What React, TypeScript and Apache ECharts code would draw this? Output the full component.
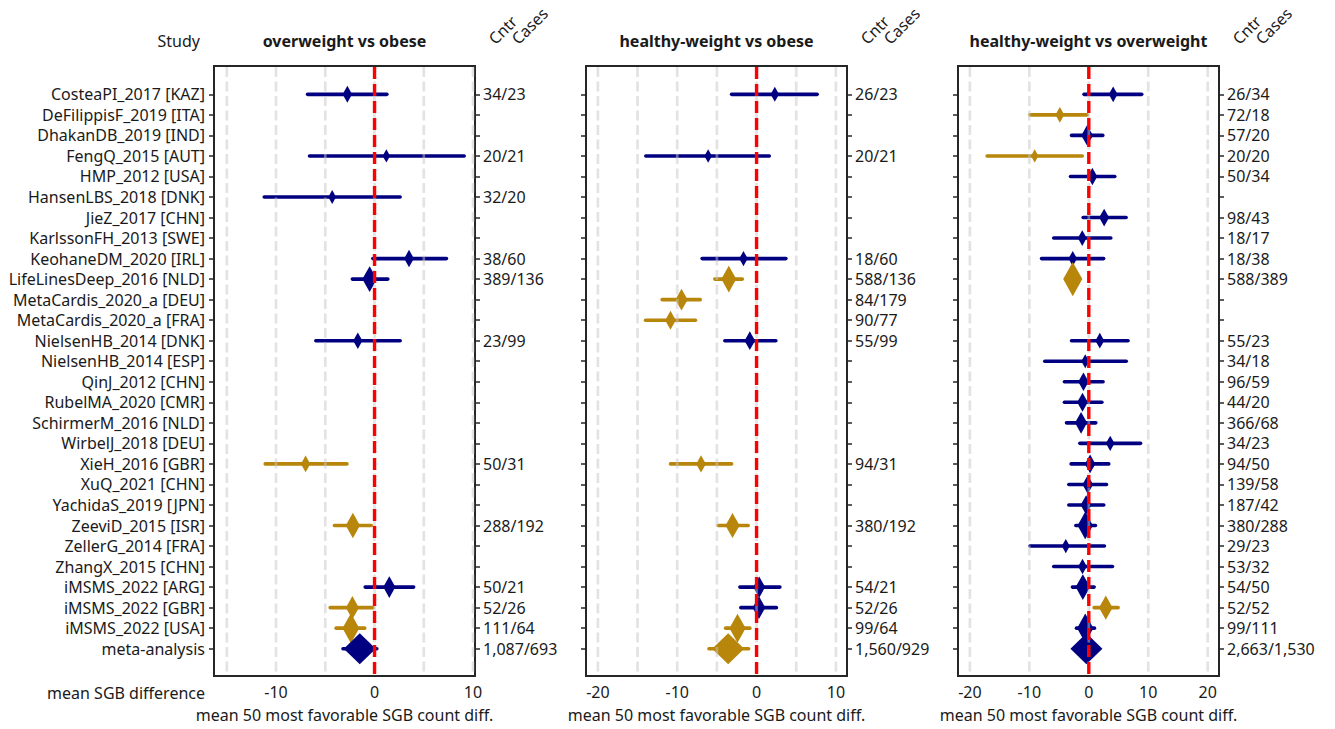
import React, { useEffect, useRef } from "react";
import * as echarts from "echarts";

const N = null;

const STUDIES = [
  "CosteaPI_2017 [KAZ]",
  "DeFilippisF_2019 [ITA]",
  "DhakanDB_2019 [IND]",
  "FengQ_2015 [AUT]",
  "HMP_2012 [USA]",
  "HansenLBS_2018 [DNK]",
  "JieZ_2017 [CHN]",
  "KarlssonFH_2013 [SWE]",
  "KeohaneDM_2020 [IRL]",
  "LifeLinesDeep_2016 [NLD]",
  "MetaCardis_2020_a [DEU]",
  "MetaCardis_2020_a [FRA]",
  "NielsenHB_2014 [DNK]",
  "NielsenHB_2014 [ESP]",
  "QinJ_2012 [CHN]",
  "RubelMA_2020 [CMR]",
  "SchirmerM_2016 [NLD]",
  "WirbelJ_2018 [DEU]",
  "XieH_2016 [GBR]",
  "XuQ_2021 [CHN]",
  "YachidaS_2019 [JPN]",
  "ZeeviD_2015 [ISR]",
  "ZellerG_2014 [FRA]",
  "ZhangX_2015 [CHN]",
  "iMSMS_2022 [ARG]",
  "iMSMS_2022 [GBR]",
  "iMSMS_2022 [USA]",
  "meta-analysis",
];

// overweight vs obese
const OVW_OB_EST = [-2.76, N, N, 1.2, N, -4.3, N, N, 3.5, -0.5, N, N, -1.7, N, N, N, N, N, -7.0, N, N, -2.2, N, N, 1.5, -2.25, -2.4, -1.5];
const OVW_OB_LO = [-6.8, N, N, -6.6, N, -11.2, N, N, -0.17, -2.25, N, N, -5.96, N, N, N, N, N, -11.1, N, N, -4.07, N, N, -0.95, -4.5, -3.9, -3.2];
const OVW_OB_HI = [1.25, N, N, 9.1, N, 2.6, N, N, 7.3, 1.35, N, N, 2.6, N, N, N, N, N, -2.8, N, N, -0.33, N, N, 3.97, -0.17, -1.0, 0.23];
const OVW_OB_N = ["34/23", "", "", "20/21", "", "32/20", "", "", "38/60", "389/136", "", "", "23/99", "", "", "", "", "", "50/31", "", "", "288/192", "", "", "50/21", "52/26", "111/64", "1,087/693"];

// healthy-weight vs obese
const HW_OB_EST = [2.3, N, N, -6.1, N, N, N, N, -1.65, -3.5, -9.46, -10.85, -0.85, N, N, N, N, N, -7.0, N, N, -3.03, N, N, 0.33, 0.3, -2.4, -3.58];
const HW_OB_LO = [-3.15, N, N, -13.96, N, N, N, N, -6.86, -5.26, -11.9, -14.0, -4.0, N, N, N, N, N, -10.85, N, N, -4.84, N, N, -2.1, -1.98, -3.9, -6.0];
const HW_OB_HI = [7.64, N, N, 1.6, N, N, N, N, 3.7, -1.8, -7.1, -7.7, 2.43, N, N, N, N, N, -3.15, N, N, -1.06, N, N, 2.94, 2.5, -0.85, -1.0];
const HW_OB_N = ["26/23", "", "", "20/21", "", "", "", "", "18/60", "588/136", "84/179", "90/77", "55/99", "", "", "", "", "", "94/31", "", "", "380/192", "", "", "54/21", "52/26", "99/64", "1,560/929"];

// healthy-weight vs overweight
const HW_OVW_EST = [4.1, -4.87, -0.28, -9.1, 0.6, N, 2.58, -1.1, -2.7, -2.7, N, N, 1.85, -0.6, -0.9, -1.06, -1.3, 3.6, 0.22, -0.17, -0.45, -0.6, -3.87, -1.06, -1.0, 2.86, -0.6, -0.4];
const HW_OVW_LO = [-0.8, -9.9, -2.9, -17.1, -3.08, N, -0.95, -5.9, -7.95, -3.9, N, N, -2.9, -7.4, -4.1, -4.1, -3.75, -1.5, -2.97, -3.36, -3.36, -2.18, -9.9, -5.9, -2.75, 0.9, -2.07, -2.2];
const HW_OVW_HI = [8.9, -0.28, 2.35, -1.1, 4.37, N, 6.27, 3.7, 2.5, -1.5, N, N, 6.6, 6.3, 2.4, 2.2, 1.18, 8.7, 3.36, 2.97, 2.52, 1.12, 2.63, 3.98, 0.9, 4.93, 0.95, 1.4];
const HW_OVW_N = ["26/34", "72/18", "57/20", "20/20", "50/34", "", "98/43", "18/17", "18/38", "588/389", "", "", "55/23", "34/18", "96/59", "44/20", "366/68", "34/23", "94/50", "139/58", "187/42", "380/288", "29/23", "53/32", "54/50", "52/52", "99/111", "2,663/1,530"];

const TITLES = ["overweight vs obese", "healthy-weight vs obese", "healthy-weight vs overweight"];
const X_RANGES = [
  [-16.3, 10.2],
  [-21.5, 11.4],
  [-22, 21.9],
];
const X_TICK_LABELS = [
  [-10, 0, 10],
  [-20, -10, 0, 10],
  [-20, -10, 0, 10, 20],
];
const X_GRID_LINES = [
  [-15, -10, -5, 0, 5, 10],
  [-20, -15, -10, -5, 0, 5, 10],
  [-20, -10, 0, 10, 20],
];

const PANELS = [
  { title: TITLES[0], est: OVW_OB_EST, lo: OVW_OB_LO, hi: OVW_OB_HI, counts: OVW_OB_N },
  { title: TITLES[1], est: HW_OB_EST, lo: HW_OB_LO, hi: HW_OB_HI, counts: HW_OB_N },
  { title: TITLES[2], est: HW_OVW_EST, lo: HW_OVW_LO, hi: HW_OVW_HI, counts: HW_OVW_N },
];

const ROWS = STUDIES.map((_, i) => i);
const META_ROW = STUDIES.length - 1;

// layout
const GRID_LEFT = [214, 586, 958];
const GRID_TOP = 66;
const GRID_W = 261;
const GRID_H = 610;
const Y_MIN = -1.38;
const Y_MAX = 28.33;

const NAVY = "#000080";
const GOLD = "#B8860B";
const INK = "#1a1a1a";
const FRAME = "#262626";
const FONT = "'Noto Sans', 'Open Sans', sans-serif";
const FS = 16;

// significant results (CI excludes zero) are highlighted
const colorFor = (lo: number, hi: number) => (hi < 0 || lo > 0 ? GOLD : NAVY);

// marker size grows with precision (narrower CI)
const markerSize = (lo: number, hi: number, row: number) => {
  if (row === META_ROW) return [32, 31];
  const h = Math.min(36, 9.6 + 59 / (hi - lo));
  return [h * 0.56, h];
};

function buildOption() {
  const grid: any[] = [];
  const xAxis: any[] = [];
  const yAxis: any[] = [];
  const series: any[] = [];
  const graphic: any[] = [];

  PANELS.forEach((p, i) => {
    grid.push({
      left: GRID_LEFT[i],
      top: GRID_TOP,
      width: GRID_W,
      height: GRID_H,
      show: true,
      borderColor: FRAME,
      borderWidth: 2,
      backgroundColor: "transparent",
    });
    xAxis.push({
      type: "value",
      gridIndex: i,
      min: X_RANGES[i][0],
      max: X_RANGES[i][1],
      axisLine: { show: false, onZero: false },
      axisTick: { show: false },
      splitLine: { show: false },
      axisLabel: {
        customValues: X_TICK_LABELS[i],
        fontSize: FS,
        fontFamily: FONT,
        color: INK,
        margin: 8,
      },
      name: "mean 50 most favorable SGB count diff.",
      nameLocation: "middle",
      nameGap: 31,
      nameTextStyle: { fontSize: FS, fontFamily: FONT, color: INK },
    });
    const yBase = {
      type: "value",
      gridIndex: i,
      inverse: true,
      min: Y_MIN,
      max: Y_MAX,
      axisLine: { show: false, onZero: false },
      splitLine: { show: false },
      axisTick: {
        show: true,
        customValues: ROWS,
        length: 5,
        lineStyle: { color: FRAME, width: 1.5 },
      },
    };
    yAxis.push({
      ...yBase,
      position: "left",
      axisLabel: {
        show: i === 0,
        customValues: ROWS,
        formatter: (v: number) => STUDIES[Math.round(v)] ?? "",
        fontSize: FS,
        fontFamily: FONT,
        color: INK,
        margin: 9,
      },
    });
    yAxis.push({
      ...yBase,
      position: "right",
      axisLabel: {
        show: true,
        customValues: ROWS,
        formatter: (v: number) => p.counts[Math.round(v)] ?? "",
        fontSize: FS,
        fontFamily: FONT,
        color: INK,
        margin: 8,
      },
    });

    const ciData: any[] = [];
    const ptData: any[] = [];
    ROWS.forEach((r) => {
      const e = p.est[r];
      const lo = p.lo[r];
      const hi = p.hi[r];
      if (e === null || lo === null || hi === null) return;
      const c = colorFor(lo, hi);
      ciData.push({ value: [lo, hi, r], itemStyle: { color: c } });
      ptData.push({
        value: [e, r],
        symbolSize: markerSize(lo, hi, r),
        itemStyle: { color: c, opacity: 1 },
      });
    });

    // confidence intervals
    series.push({
      type: "custom",
      xAxisIndex: i,
      yAxisIndex: 2 * i,
      z: 2,
      silent: true,
      encode: { x: [0, 1], y: 2 },
      data: ciData,
      renderItem: (params: any, api: any) => {
        const a = api.coord([api.value(0), api.value(2)]);
        const b = api.coord([api.value(1), api.value(2)]);
        return {
          type: "line",
          shape: { x1: a[0], y1: a[1], x2: b[0], y2: b[1] },
          style: { stroke: api.visual("color"), lineWidth: 3.6, lineCap: "round" },
        };
      },
    });

    // point estimates
    series.push({
      type: "scatter",
      xAxisIndex: i,
      yAxisIndex: 2 * i,
      z: 3,
      silent: true,
      symbol: "diamond",
      itemStyle: { opacity: 1 },
      data: ptData,
    });

    // dashed reference grid drawn over the marks
    series.push({
      type: "custom",
      xAxisIndex: i,
      yAxisIndex: 2 * i,
      z: 4,
      silent: true,
      encode: { x: 0, y: [1, 2] },
      data: X_GRID_LINES[i].map((v) => [v, Y_MIN, Y_MAX]),
      renderItem: (params: any, api: any) => {
        const a = api.coord([api.value(0), api.value(1)]);
        const b = api.coord([api.value(0), api.value(2)]);
        return {
          type: "line",
          shape: { x1: a[0], y1: a[1] + 1, x2: b[0], y2: b[1] - 1 },
          style: { stroke: "rgba(200,200,200,0.5)", lineWidth: 2.7, lineDash: [10, 4.5] },
        };
      },
    });

    // zero-difference line
    series.push({
      type: "custom",
      xAxisIndex: i,
      yAxisIndex: 2 * i,
      z: 5,
      silent: true,
      encode: { x: 0, y: [1, 2] },
      data: [[0, Y_MIN, Y_MAX]],
      renderItem: (params: any, api: any) => {
        const a = api.coord([api.value(0), api.value(1)]);
        const b = api.coord([api.value(0), api.value(2)]);
        return {
          type: "line",
          shape: { x1: a[0], y1: a[1] + 1, x2: b[0], y2: b[1] - 1 },
          style: { stroke: "#ff0000", lineWidth: 3.4, lineDash: [12, 5] },
        };
      },
    });

    const right = GRID_LEFT[i] + GRID_W;
    graphic.push({
      type: "text",
      x: GRID_LEFT[i] + GRID_W / 2,
      y: 41,
      style: {
        text: p.title,
        fill: INK,
        fontSize: FS,
        fontWeight: "bold",
        fontFamily: FONT,
        align: "center",
        verticalAlign: "middle",
      },
    });
    graphic.push({
      type: "text",
      x: right + 22,
      y: 47,
      rotation: Math.PI / 4,
      style: { text: "Cntr", fill: INK, fontSize: FS, fontFamily: FONT, align: "left", verticalAlign: "bottom" },
    });
    graphic.push({
      type: "text",
      x: right + 45,
      y: 47,
      rotation: Math.PI / 4,
      style: { text: "Cases", fill: INK, fontSize: FS, fontFamily: FONT, align: "left", verticalAlign: "bottom" },
    });
  });

  graphic.push({
    type: "text",
    x: 200,
    y: 41,
    style: { text: "Study", fill: INK, fontSize: FS, fontFamily: FONT, align: "right", verticalAlign: "middle" },
  });
  graphic.push({
    type: "text",
    x: 205,
    y: 693,
    style: {
      text: "mean SGB difference",
      fill: INK,
      fontSize: FS,
      fontFamily: FONT,
      align: "right",
      verticalAlign: "middle",
    },
  });

  return {
    animation: false,
    backgroundColor: "#ffffff",
    grid,
    xAxis,
    yAxis,
    series,
    graphic,
  };
}

export default function App() {
  const ref = useRef<HTMLDivElement>(null);
  useEffect(() => {
    if (!ref.current) return;
    const chart = echarts.init(ref.current, undefined, { renderer: "svg" });
    chart.setOption(buildOption() as any);
    return () => chart.dispose();
  }, []);
  return (
    <div
      ref={ref}
      style={{ position: "fixed", left: 0, top: 0, width: 1335, height: 729, background: "#fff" }}
    />
  );
}
